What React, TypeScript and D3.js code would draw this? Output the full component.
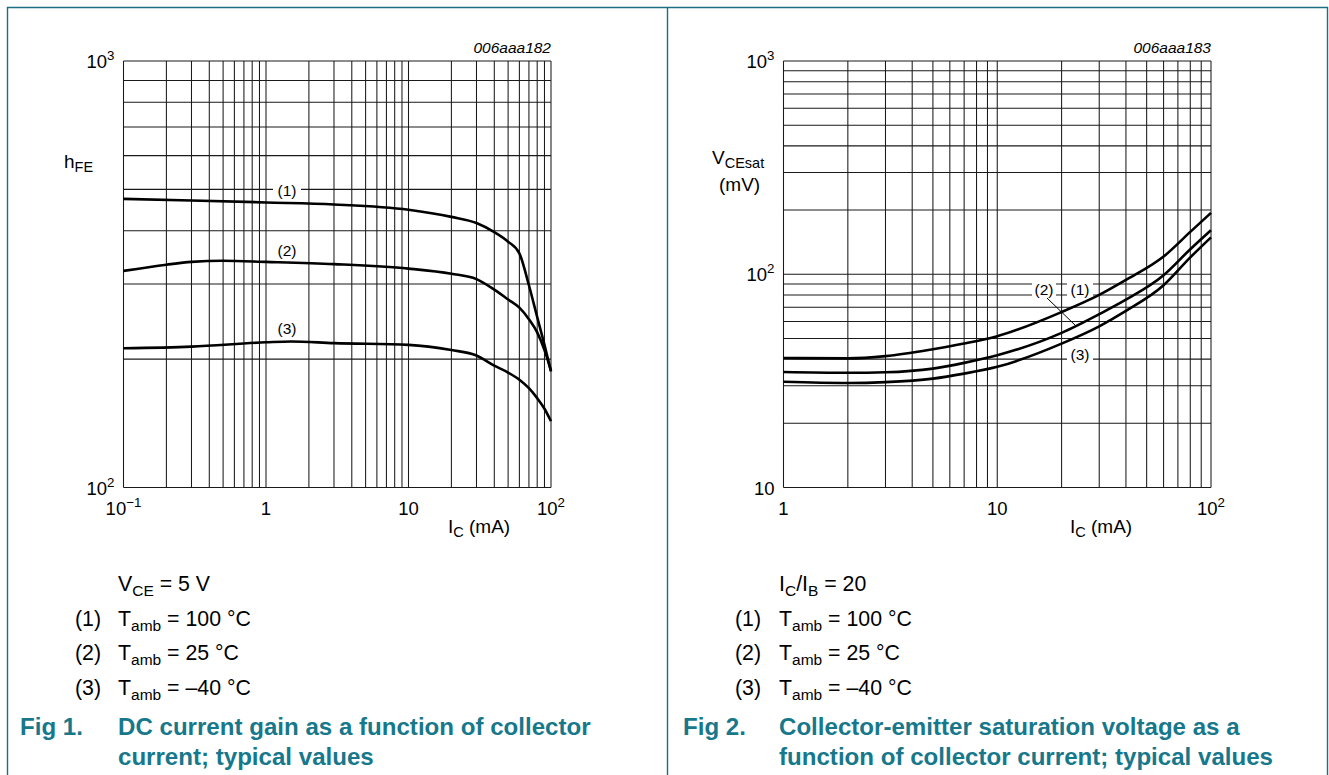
import React from "react";
import * as d3 from "d3";

// ---------- data ----------
// Fig 1: DC current gain hFE vs collector current IC (mA)
const hfeIc1 = [0.1, 0.3, 1, 3, 10, 20, 30, 40, 50, 60, 70, 80, 90, 100];
const hfe100C = [475, 471, 466, 461, 448, 431, 417, 397, 377, 354, 298, 251, 216, 187];
const hfeIc2 = [0.1, 0.2, 0.3, 0.5, 1, 3, 10, 20, 30, 40, 50, 60, 70, 80, 90, 100];
const hfe25C = [322, 333, 338, 340, 338, 334, 326, 317, 308, 291, 276, 264, 248, 231, 210, 188];
const hfeIc3 = [0.1, 0.3, 1, 1.5, 3, 10, 20, 30, 40, 50, 60, 70, 80, 90, 100];
const hfeM40C = [212, 214, 219, 220, 218, 216, 210, 204, 193, 186, 179, 171, 162, 153, 143];

// Fig 2: VCEsat (mV) vs IC (mA)
const vIc = [1, 2, 3, 5, 7, 10, 20, 30, 40, 60, 80, 100];
const vce100C = [40.5, 40.3, 41.3, 44.5, 47.3, 51.2, 66.5, 80, 94, 121, 158, 194];
const vce25C = [34.8, 34.5, 34.7, 36.1, 38.4, 41.7, 53.1, 65, 76, 99, 131, 161];
const vceM40C = [31.3, 30.9, 31.2, 32.4, 34.2, 36.8, 47.3, 57, 67.3, 88.8, 120, 149];

// tick labels
const fig1XTicks = [
  { v: 0.1, b: "10", e: "\u22121" },
  { v: 1, b: "1", e: "" },
  { v: 10, b: "10", e: "" },
  { v: 100, b: "10", e: "2" },
];
const fig1YTicks = [
  { v: 100, b: "10", e: "2" },
  { v: 1000, b: "10", e: "3" },
];
const fig2XTicks = [
  { v: 1, b: "1", e: "" },
  { v: 10, b: "10", e: "" },
  { v: 100, b: "10", e: "2" },
];
const fig2YTicks = [
  { v: 10, b: "10", e: "" },
  { v: 100, b: "10", e: "2" },
  { v: 1000, b: "10", e: "3" },
];

const curveLabels = ["(1)", "(2)", "(3)"];
const tempLabels = ["100 \u00b0C", "25 \u00b0C", "\u201340 \u00b0C"];

// ---------- styling ----------
const FONT = '"Liberation Sans", Arial, Helvetica, sans-serif';
const TEAL = "#17788b";
const BORDER = "#1b6f80";
const TICK_SIZE = 18.5;
const AXIS_SIZE = 19;
const LEG_SIZE = 21.3;
const TITLE_SIZE = 24.1;

function logGrid(min: number, max: number): number[] {
  const out: number[] = [];
  for (let d = min; d < max * 0.999; d *= 10) {
    for (let k = 1; k <= 9; k++) out.push(d * k);
  }
  out.push(max);
  return out;
}

type Tick = { v: number; b: string; e: string };

function TickText({ x, y, t, anchor, size }: { x: number; y: number; t: Tick; anchor: string; size: number }) {
  return (
    <text x={x} y={y} textAnchor={anchor} fontSize={size} fontFamily={FONT} fill="#000">
      <tspan>{t.b}</tspan>
      {t.e ? (
        <tspan dy={-8} fontSize={size * 0.72}>
          {t.e}
        </tspan>
      ) : null}
    </text>
  );
}

function Tag({ x, y, text, w }: { x: number; y: number; text: string; w: number }) {
  return (
    <g>
      <rect x={x - w / 2} y={y - 9.5} width={w} height={19} fill="#fff" />
      <text x={x} y={y + 5.5} textAnchor="middle" fontSize={15.5} fontFamily={FONT} fill="#000">
        {text}
      </text>
    </g>
  );
}

type Series = { x: number[]; y: number[] };

function Panel(props: {
  x0: number;
  x1: number;
  y0: number;
  y1: number;
  xDom: [number, number];
  yDom: [number, number];
  series: Series[];
  xTicks: Tick[];
  yTicks: Tick[];
  code: string;
  labels: (xs: any, ys: any) => React.ReactNode;
}) {
  const { x0, x1, y0, y1, xDom, yDom, series, xTicks, yTicks, code } = props;
  const xs = d3.scaleLog().domain(xDom).range([x0, x1]);
  const ys = d3.scaleLog().domain(yDom).range([y1, y0]);
  const xg = logGrid(xDom[0], xDom[1]);
  const yg = logGrid(yDom[0], yDom[1]);
  const line = d3
    .line<[number, number]>()
    .x((d) => xs(d[0]))
    .y((d) => ys(d[1]))
    .curve(d3.curveMonotoneX);
  return (
    <g>
      {xg.map((v, i) => (
        <line key={"x" + i} x1={xs(v)} x2={xs(v)} y1={y0} y2={y1} stroke="#1a1a1a" strokeWidth={1.05} />
      ))}
      {yg.map((v, i) => (
        <line key={"y" + i} y1={ys(v)} y2={ys(v)} x1={x0} x2={x1} stroke="#1a1a1a" strokeWidth={1.05} />
      ))}
      {props.labels(xs, ys)}
      {series.map((s, i) => (
        <path
          key={"s" + i}
          d={line(s.x.map((xv, j) => [xv, s.y[j]] as [number, number])) || ""}
          fill="none"
          stroke="#000"
          strokeWidth={2.6}
          strokeLinejoin="round"
        />
      ))}
      {xTicks.map((t, i) => (
        <TickText key={"xt" + i} x={xs(t.v)} y={y1 + 27} t={t} anchor="middle" size={TICK_SIZE} />
      ))}
      {yTicks.map((t, i) => (
        <TickText key={"yt" + i} x={x0 - 9} y={ys(t.v) + 7} t={t} anchor="end" size={TICK_SIZE} />
      ))}
      <text x={x1} y={y0 - 8} textAnchor="end" fontSize={15.5} fontStyle="italic" fontFamily={FONT} fill="#000">
        {code}
      </text>
    </g>
  );
}

function Legend({ x, numX, first, title, figLabel, figX }: { x: number; numX: number; first: React.ReactNode; title: string[]; figLabel: string; figX: number }) {
  const rows = [591, 626, 660, 695];
  return (
    <g fontFamily={FONT} fill="#000">
      <text x={x} y={rows[0]} fontSize={LEG_SIZE}>
        {first}
      </text>
      {tempLabels.map((t, i) => (
        <g key={i}>
          <text x={numX} y={rows[i + 1]} fontSize={LEG_SIZE}>
            {curveLabels[i]}
          </text>
          <text x={x} y={rows[i + 1]} fontSize={LEG_SIZE}>
            <tspan>T</tspan>
            <tspan fontSize={15.5} dy={5}>
              amb
            </tspan>
            <tspan dy={-5}>{" = " + t}</tspan>
          </text>
        </g>
      ))}
      <text x={figX} y={735} fontSize={TITLE_SIZE} fontWeight="bold" fill={TEAL}>
        {figLabel}
      </text>
      {title.map((t, i) => (
        <text key={i} x={x} y={735 + i * 30} fontSize={TITLE_SIZE} fontWeight="bold" fill={TEAL}>
          {t}
        </text>
      ))}
    </g>
  );
}

export default function App() {
  const fig1: Series[] = [
    { x: hfeIc1, y: hfe100C },
    { x: hfeIc2, y: hfe25C },
    { x: hfeIc3, y: hfeM40C },
  ];
  const fig2: Series[] = [
    { x: vIc, y: vce100C },
    { x: vIc, y: vce25C },
    { x: vIc, y: vceM40C },
  ];
  return (
    <svg
      width={1329}
      height={775}
      style={{ position: "absolute", left: 0, top: 0, background: "#fff" }}
      fontFamily={FONT}
    >
      <rect x={0} y={0} width={1329} height={775} fill="#fff" />
      {/* frame */}
      <path d="M7.5,775 V7.5 H1327.5 V775 M667.5,7.5 V775" fill="none" stroke={BORDER} strokeWidth={1.4} />

      <Panel
        x0={123.5}
        x1={551}
        y0={61}
        y1={487.5}
        xDom={[0.1, 100]}
        yDom={[100, 1000]}
        series={fig1}
        xTicks={fig1XTicks}
        yTicks={fig1YTicks}
        code="006aaa182"
        labels={() => (
          <g>
            <Tag x={287} y={190} text="(1)" w={28} />
            <Tag x={287} y={250} text="(2)" w={28} />
            <Tag x={287} y={328} text="(3)" w={28} />
          </g>
        )}
      />
      {/* Fig 1 axis titles */}
      <text x={64} y={168} fontSize={AXIS_SIZE} fontFamily={FONT}>
        <tspan>h</tspan>
        <tspan fontSize={14.5} dy={4}>
          FE
        </tspan>
      </text>
      <text x={448} y={533} fontSize={AXIS_SIZE} fontFamily={FONT}>
        <tspan>I</tspan>
        <tspan fontSize={14.5} dy={4}>
          C
        </tspan>
        <tspan dy={-4}> (mA)</tspan>
      </text>

      <Panel
        x0={783.5}
        x1={1211}
        y0={61}
        y1={487.5}
        xDom={[1, 100]}
        yDom={[10, 1000]}
        series={fig2}
        xTicks={fig2XTicks}
        yTicks={fig2YTicks}
        code="006aaa183"
        labels={() => (
          <g>
            <Tag x={1044} y={289} text="(2)" w={24} />
            <Tag x={1080} y={289} text="(1)" w={26} />
            <Tag x={1080} y={354} text="(3)" w={26} />
            <line x1={1047} y1={298} x2={1076} y2={326} stroke="#000" strokeWidth={1} />
          </g>
        )}
      />
      {/* Fig 2 axis titles */}
      <text x={712} y={164} fontSize={AXIS_SIZE} fontFamily={FONT}>
        <tspan>V</tspan>
        <tspan fontSize={14.5} dy={4}>
          CEsat
        </tspan>
      </text>
      <text x={719} y={191} fontSize={AXIS_SIZE} fontFamily={FONT}>
        (mV)
      </text>
      <text x={1070} y={533} fontSize={AXIS_SIZE} fontFamily={FONT}>
        <tspan>I</tspan>
        <tspan fontSize={14.5} dy={4}>
          C
        </tspan>
        <tspan dy={-4}> (mA)</tspan>
      </text>

      <Legend
        x={118}
        numX={75}
        figX={20}
        figLabel="Fig 1."
        first={
          <>
            <tspan>V</tspan>
            <tspan fontSize={15.5} dy={5}>
              CE
            </tspan>
            <tspan dy={-5}> = 5 V</tspan>
          </>
        }
        title={["DC current gain as a function of collector", "current; typical values"]}
      />
      <Legend
        x={779}
        numX={735}
        figX={683}
        figLabel="Fig 2."
        first={
          <>
            <tspan>I</tspan>
            <tspan fontSize={15.5} dy={5}>
              C
            </tspan>
            <tspan dy={-5}>/I</tspan>
            <tspan fontSize={15.5} dy={5}>
              B
            </tspan>
            <tspan dy={-5}> = 20</tspan>
          </>
        }
        title={["Collector-emitter saturation voltage as a", "function of collector current; typical values"]}
      />
    </svg>
  );
}
